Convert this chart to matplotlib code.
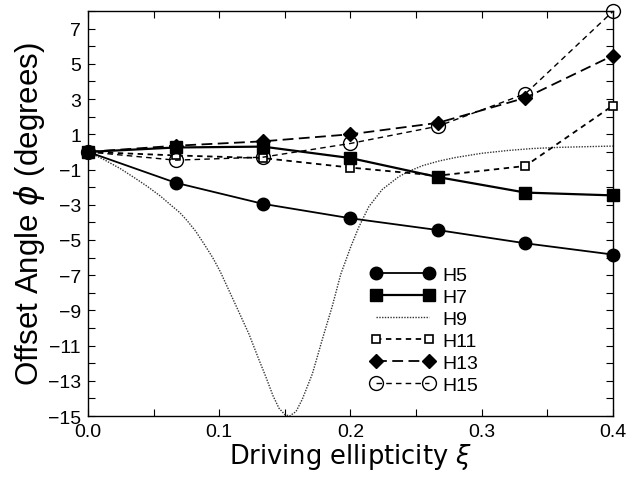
import matplotlib
matplotlib.use("Agg")
import matplotlib.pyplot as plt
from matplotlib.ticker import MultipleLocator, FormatStrFormatter

# Data
xi = [0.0, 0.0667, 0.1333, 0.2, 0.2667, 0.3333, 0.4]
h5 = [0.0, -1.75, -2.95, -3.77, -4.44, -5.19, -5.83]
h7 = [0.0, 0.25, 0.3, -0.35, -1.43, -2.31, -2.47]
h11 = [0.0, -0.2, -0.35, -0.89, -1.35, -0.8, 2.63]
h13 = [0.0, 0.35, 0.6, 1.0, 1.65, 3.07, 5.47]
h15 = [0.0, -0.47, -0.3, 0.48, 1.46, 3.3, 7.98]

h9_x = [0.0, 0.0125, 0.0246, 0.035, 0.045, 0.055, 0.0628, 0.0700, 0.0755,
        0.0820, 0.0882, 0.0950, 0.1008, 0.1070, 0.1135, 0.1227, 0.1300,
        0.1354, 0.1410, 0.1455, 0.1500, 0.1535, 0.1585, 0.1633, 0.171,
        0.1786, 0.1862, 0.1926, 0.2002, 0.2065, 0.2141, 0.2243, 0.237,
        0.2446, 0.2550, 0.2674, 0.2800, 0.30, 0.32, 0.3385, 0.36, 0.3817, 0.4]
h9_y = [0.0, -0.45, -0.95, -1.45, -1.95, -2.50, -3.00, -3.45, -3.90,
        -4.50, -5.20, -6.00, -6.80, -7.80, -8.85, -10.35, -11.75,
        -12.75, -13.85, -14.55, -14.92, -15.0, -14.75, -14.05, -12.6,
        -10.64, -8.75, -6.95, -5.40, -4.25, -3.10, -2.13, -1.40,
        -1.10, -0.78, -0.52, -0.32, -0.08, 0.08, 0.19, 0.26, 0.30, 0.33]

labels = ["H5", "H7", "H9", "H11", "H13", "H15"]

fig = plt.figure(figsize=(6.26, 4.81), dpi=100)
ax = fig.add_axes([0.1406, 0.133, 0.8384, 0.842])

ax.plot(xi, h5, color="black", lw=1.3, marker="o", ms=9, label=labels[0], clip_on=False, zorder=5)
ax.plot(xi, h7, color="black", lw=1.6, marker="s", ms=8, label=labels[1], clip_on=False, zorder=5)
ax.plot(h9_x, h9_y, color="#333333", lw=1.0, ls=(0, (1, 1)), label=labels[2], zorder=3)
ax.plot(xi, h11, color="black", lw=1.3, ls=(0, (3, 2.5)), marker="s", ms=6,
        mfc="white", mec="black", mew=1.2, label=labels[3], clip_on=False, zorder=4)
ax.plot(xi, h13, color="black", lw=1.3, ls=(0, (6, 3)), marker="D", ms=7,
        label=labels[4], clip_on=False, zorder=4)
ax.plot(xi, h15, color="black", lw=1.0, ls=(0, (4, 3)), marker="o", ms=10,
        mfc="none", mec="black", mew=1.0, label=labels[5], clip_on=False, zorder=4)

ax.set_xlim(0, 0.4)
ax.set_ylim(-15, 8)
ax.xaxis.set_major_locator(MultipleLocator(0.1))
ax.xaxis.set_minor_locator(MultipleLocator(0.05))
ax.xaxis.set_major_formatter(FormatStrFormatter("%.1f"))
ax.set_yticks(list(range(-15, 8, 2)))
ax.yaxis.set_minor_locator(MultipleLocator(1))
ax.tick_params(which="both", direction="in", top=True, right=True, labelsize=14,
               length=5, width=0.8, pad=5)
for lab in ax.get_xticklabels() + ax.get_yticklabels():
    lab.set_fontfamily("Liberation Sans")
for s in ax.spines.values():
    s.set_linewidth(1.0)

ax.set_xlabel(r"Driving ellipticity $\xi$", fontsize=18.5, family="DejaVu Sans", labelpad=1)
ax.set_ylabel(r"Offset Angle $\phi$ (degrees)", fontsize=22.5, family="Liberation Sans", labelpad=1)

leg = ax.legend(loc="lower left", bbox_to_anchor=(0.505, 0.012), frameon=False, numpoints=2,
                handlelength=3.3, handletextpad=0.4, labelspacing=0.22,
                prop={"family": "Liberation Sans", "size": 14})

fig.savefig("out.png", dpi=100)
